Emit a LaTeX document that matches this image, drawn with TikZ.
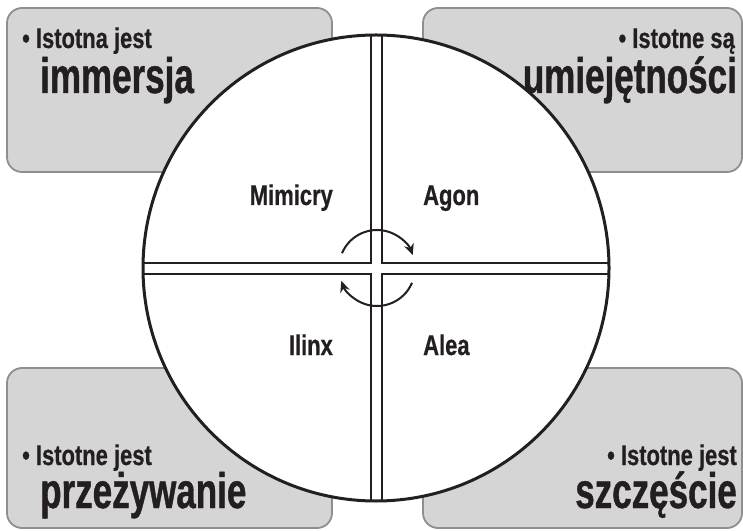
\documentclass[tikz,border=0pt]{standalone}
\usepackage{fontspec}
\setmainfont{Liberation Sans}
\newfontfamily\cndsmall[FakeStretch=0.77,FakeBold=0.6]{Liberation Sans}
\newfontfamily\cndbig[FakeStretch=0.70,FakeBold=0.8]{Liberation Sans}
\usetikzlibrary{arrows.meta}
\definecolor{ink}{HTML}{231F20}
\definecolor{boxfill}{HTML}{D5D5D5}
\definecolor{boxline}{HTML}{8E8E8E}
\begin{document}
\begin{tikzpicture}[x=1pt,y=1pt,
  cornerbox/.style={draw=boxline,fill=boxfill,line width=1.8pt,rounded corners=15pt},
  smalltxt/.style={inner sep=0pt,text=ink,font=\cndsmall\bfseries\fontsize{28.5}{30}\selectfont},
  bigtxt/.style={inner sep=0pt,text=ink,text height=34pt,font=\cndbig\bfseries\fontsize{50}{52}\selectfont},
  crossline/.style={draw=ink,line width=2pt},
  turn/.style={draw=ink,line width=2pt,-{Stealth[length=11pt,width=10pt]}}]
\useasboundingbox (0,0) rectangle (743,530);
% corner boxes
\draw[cornerbox] (7,358) rectangle (332,522);
\draw[cornerbox] (423,358) rectangle (742,522);
\draw[cornerbox] (7,2) rectangle (332,162);
\draw[cornerbox] (423,2) rectangle (742,162);
% texts in boxes
\node[smalltxt,anchor=base west] (t1) at (22,482) {• Istotna jest};
\node[bigtxt,anchor=base west] (h1) at (40,437) {immersja};
\node[smalltxt,anchor=base east] (t2) at (735,482) {• Istotne są};
\node[bigtxt,anchor=base east] (h2) at (737,437) {umiejętności};
\node[smalltxt,anchor=base west] (t3) at (22,65) {• Istotne jest};
\node[bigtxt,anchor=base west] (h3) at (40,22) {przeżywanie};
\node[smalltxt,anchor=base east] (t4) at (737,65) {• Istotne jest};
\node[bigtxt,anchor=base east] (h4) at (737,22) {szczęście};
% circle
\coordinate (c) at (376,262);
\fill[white] (c) circle[radius=233];
% cross
\draw[crossline] (371,494.95) -- (371,267) -- (143.05,267);
\draw[crossline] (382,494.95) -- (382,267) -- (608.95,267);
\draw[crossline] (371,29.05) -- (371,256) -- (143.05,256);
\draw[crossline] (382,29.05) -- (382,256) -- (608.95,256);
\draw[draw=ink,line width=3pt] (c) circle[radius=233];
% quadrant labels
\node[smalltxt,anchor=base east] (mim) at (333,325) {Mimicry};
\node[smalltxt,anchor=base west] (ago) at (423,325) {Agon};
\node[smalltxt,anchor=base east] (ili) at (333,175) {Ilinx};
\node[smalltxt,anchor=base west] (ale) at (423,175) {Alea};
% rotation arrows
\draw[turn] (377,262) ++(157:38) arc[start angle=157,end angle=20,radius=38];
\draw[turn] (377,262) ++(-23:38) arc[start angle=-23,end angle=-160,radius=38];
\end{tikzpicture}
\end{document}
